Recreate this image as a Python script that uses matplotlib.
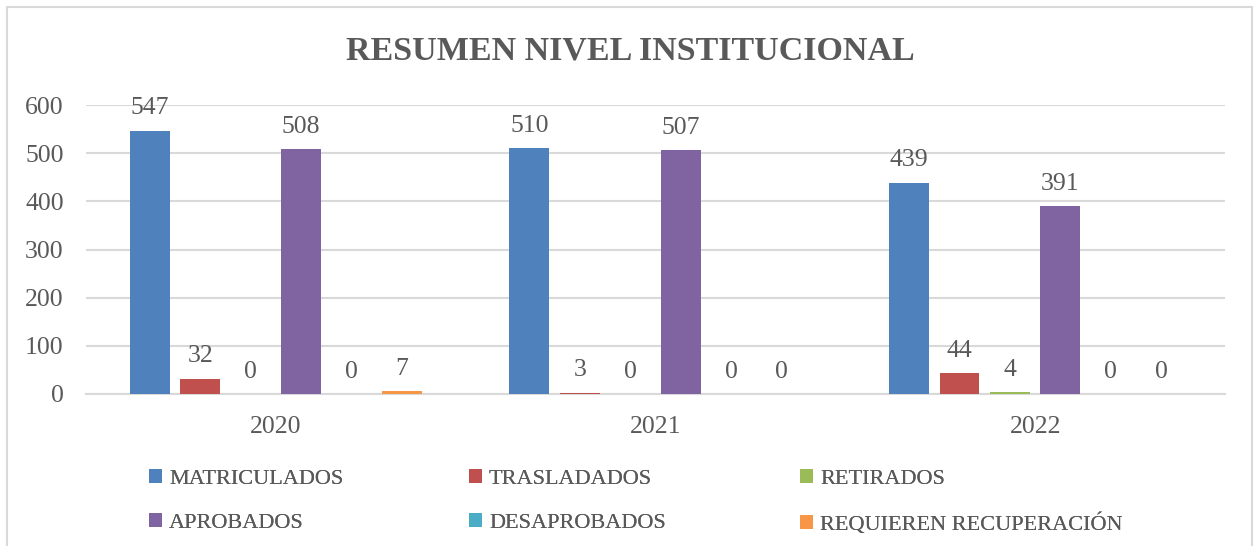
import numpy as np
import matplotlib
matplotlib.use('Agg')
import matplotlib.pyplot as plt
from matplotlib.patches import Patch, Rectangle

# Data
years = ['2020', '2021', '2022']
series_names = ['MATRICULADOS', 'TRASLADADOS', 'RETIRADOS',
                'APROBADOS', 'DESAPROBADOS', 'REQUIEREN RECUPERACIÓN']
matriculados = [547, 510, 439]
trasladados = [32, 3, 44]
retirados = [0, 0, 4]
aprobados = [508, 507, 391]
desaprobados = [0, 0, 0]
recuperacion = [7, 0, 0]
values = [matriculados, trasladados, retirados, aprobados, desaprobados, recuperacion]
colors = ['#4F81BD', '#C0504D', '#9BBB59', '#8064A2', '#4BACC6', '#F79646']

txt = '#595959'
grid_c = '#D9D9D9'
plt.rcParams['font.family'] = ['Liberation Serif', 'DejaVu Serif']

W, H = 1255, 546
fig = plt.figure(figsize=(W / 100, H / 100), dpi=100)

# chart border
fig.add_artist(Rectangle((7 / W, -0.1), (1252 - 7) / W, 1.1 - 7 / H,
                         transform=fig.transFigure, fill=False,
                         edgecolor=grid_c, linewidth=1.5))

ax = fig.add_axes([86 / W, (H - 394) / H, (1225 - 86) / W, (394 - 105) / H])

x = np.arange(len(years))
slot = 50.5 / 380
width = 40 / 380
handles = []
for i, (name, vals, c) in enumerate(zip(series_names, values, colors)):
    bars = ax.bar(x + (i - 2.5) * slot, vals, width, color=c, label=name, zorder=3)
    ax.bar_label(bars, padding=8, fontsize=18.5, color=txt)
    handles.append(Patch(facecolor=c, label=name))

ax.set_xlim(-0.5, 2.5)
ax.set_ylim(0, 600)
ax.set_yticks(range(0, 601, 100))
ax.set_xticks(x)
ax.set_xticklabels(years)
ax.tick_params(axis='both', length=0, labelsize=18.5, labelcolor=txt)
ax.tick_params(axis='y', pad=16)
ax.tick_params(axis='x', pad=16)
ax.grid(axis='y', color=grid_c, linewidth=1.5, zorder=0)
for s in ['top', 'right', 'left']:
    ax.spines[s].set_visible(False)
ax.spines['bottom'].set_color(grid_c)
ax.spines['bottom'].set_linewidth(1.5)

fig.text(630 / W, 1 - 51 / H, 'RESUMEN NIVEL INSTITUCIONAL', ha='center', va='center',
         fontsize=24.5, fontweight='bold', color=txt)

# legend: three columns of two rows
col_x = [149, 469, 800]
for j in range(3):
    hs = [handles[j], handles[j + 3]]
    leg = fig.legend(handles=hs, loc='upper left',
                     bbox_to_anchor=(col_x[j] / W, 1 - 469 / H),
                     frameon=False, fontsize=16, labelcolor=txt,
                     handlelength=0.6, handleheight=0.6, handletextpad=0.3,
                     labelspacing=1.1, borderpad=0, borderaxespad=0)
    fig.add_artist(leg)

fig.savefig('out.png', dpi=100)
